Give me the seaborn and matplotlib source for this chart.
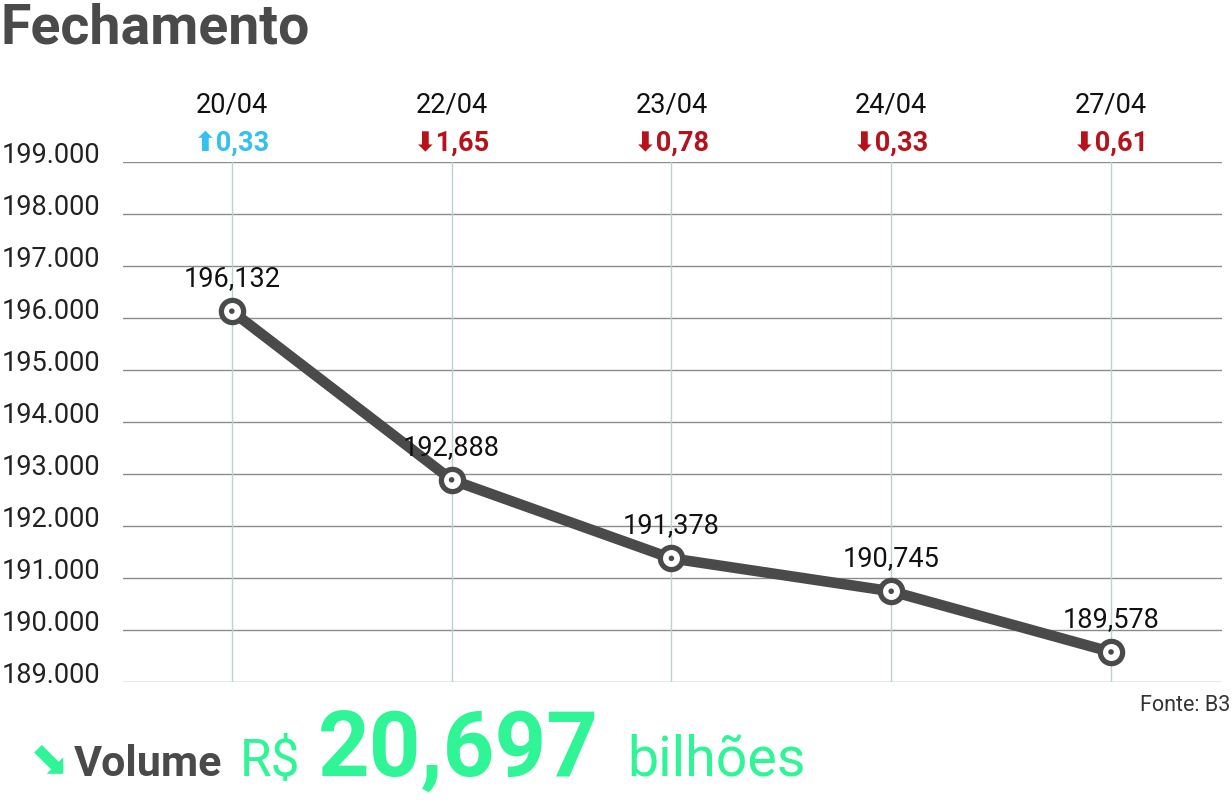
import matplotlib
matplotlib.use("Agg")
import matplotlib.pyplot as plt
import seaborn as sns
import pandas as pd
import numpy as np

# ---- data ----
dates = ["20/04", "22/04", "23/04", "24/04", "27/04"]
closes = [196132, 192888, 191378, 190745, 189578]
close_labels = ["196,132", "192,888", "191,378", "190,745", "189,578"]
changes = ["0,33", "1,65", "0,78", "0,33", "0,61"]
directions = ["up", "down", "down", "down", "down"]
yticks = [189000, 190000, 191000, 192000, 193000, 194000, 195000, 196000, 197000, 198000, 199000]
ytick_labels = ["189.000", "190.000", "191.000", "192.000", "193.000", "194.000",
                "195.000", "196.000", "197.000", "198.000", "199.000"]
title = "Fechamento"
source = "Fonte: B3"
volume_value = "20,697"

sns.set_theme(style="white")
plt.rcParams['font.family'] = ['Roboto', 'DejaVu Sans']

W, H = 1232, 803
fig = plt.figure(figsize=(W / 100, H / 100), dpi=100)
fig.patch.set_facecolor("white")

def fx(x):
    return x / W

def fy(y):
    return 1 - y / H

ax = fig.add_axes([fx(123), fy(683), fx(1222) - fx(123), fy(163) - fy(683)])
ax.set_facecolor("white")

df = pd.DataFrame({"pos": np.arange(len(dates)), "close": closes})

DARK = "#4a4a4a"
sns.lineplot(data=df, x="pos", y="close", ax=ax, color=DARK, linewidth=7.6,
             marker="o", markersize=16, markerfacecolor="white",
             markeredgecolor=DARK, markeredgewidth=3.8, zorder=5)
sns.scatterplot(data=df, x="pos", y="close", ax=ax, color=DARK, s=16,
                edgecolor="none", zorder=6)

ax.set_xlim(-0.495, 4.505)
ax.set_ylim(189000, 199000)

ax.set_yticks(yticks)
ax.set_yticklabels(ytick_labels)
ax.set_xticks(df["pos"])
ax.set_xticklabels(dates)
ax.grid(False)
for yv in yticks:
    ax.axhline(yv, color="#8c8c8c", linewidth=1.0, zorder=1)
for xv in df["pos"]:
    ax.axvline(xv, color="#b8d4cc", linewidth=1.0, zorder=1)

for s in ax.spines.values():
    s.set_visible(False)

# y labels: left edge at x=2 px -> pad = 121 px = 87 pt
ax.tick_params(axis="y", length=0, pad=87, labelsize=19.5, labelcolor="#222222")
for lab in ax.get_yticklabels():
    lab.set_ha("left")
    lab.set_va("baseline")

ax.xaxis.tick_top()
ax.tick_params(axis="x", length=0, pad=32, labelsize=19.5, labelcolor="#111111")

ax.set_xlabel("")
ax.set_ylabel("")

# change labels
for i, (c, d) in enumerate(zip(changes, directions)):
    col = "#35c0ee" if d == "up" else "#b5121b"
    arrow = "\u2B06" if d == "up" else "\u2B07"
    ax.annotate(arrow + c, xy=(i, 1.0), xycoords=("data", "axes fraction"),
                xytext=(0, 14), textcoords="offset points", ha="center", va="center",
                fontsize=19.5, fontweight="bold", color=col,
                family=['Roboto', 'DejaVu Sans'])

# value labels
for i, (v, lab) in enumerate(zip(closes, close_labels)):
    ax.annotate(lab, xy=(i, v), xytext=(0, 24), textcoords="offset points",
                ha="center", va="center", fontsize=19.5, color="#111111", zorder=7)

# title
fig.text(fx(0), fy(28), title, fontsize=40, fontweight="bold", color="#4a4a4a",
         ha="left", va="center")

# source
fig.text(fx(1230), fy(706), source, fontsize=15.5, color="#333333",
         ha="right", va="center")

# volume line
GREEN = "#2ff596"
base = fy(776)
fig.text(fx(30), base + 0.002, "\u2B0A", fontsize=34, color=GREEN,
         ha="left", va="baseline", family=['DejaVu Sans'])
fig.text(fx(74), base, "Volume", fontsize=31, fontweight="bold", color="#4a4a4a",
         ha="left", va="baseline")
fig.text(fx(240), base, "R$", fontsize=37, color=GREEN,
         ha="left", va="baseline")
fig.text(fx(318), base, volume_value, fontsize=65, fontweight="bold", color=GREEN,
         ha="left", va="baseline")
fig.text(fx(627), base, "bilhões", fontsize=40, color=GREEN,
         ha="left", va="baseline")

fig.savefig("out.png", dpi=100, facecolor="white")
